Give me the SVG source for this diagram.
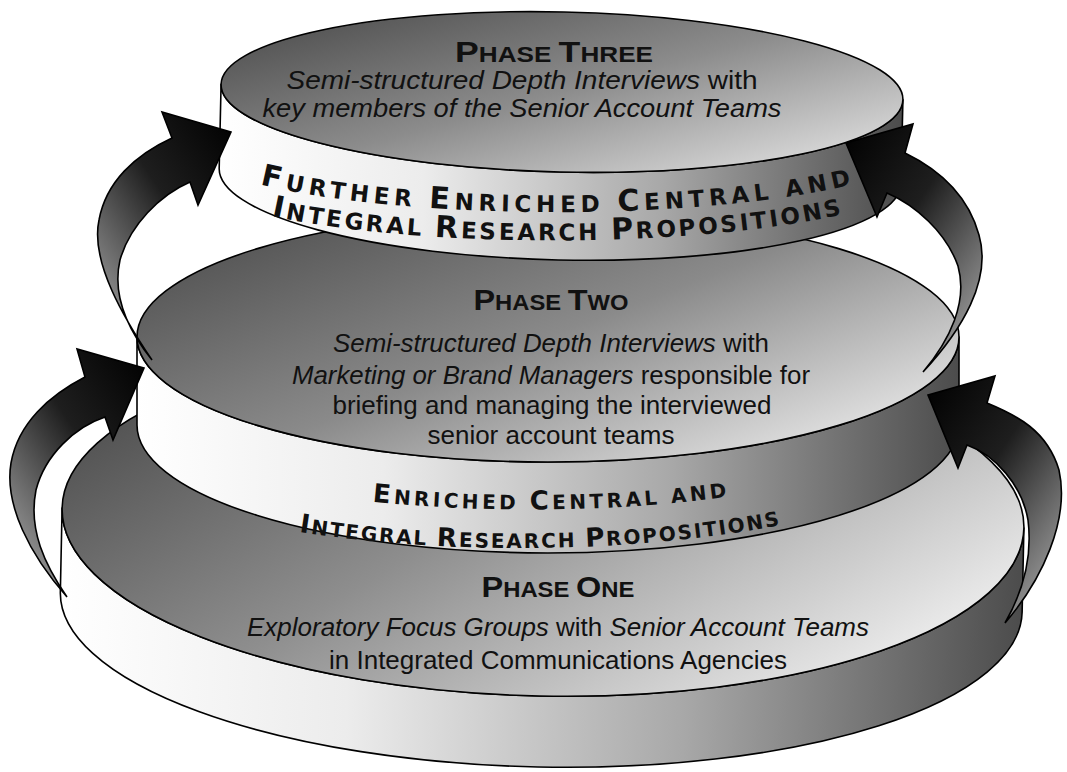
<svg xmlns="http://www.w3.org/2000/svg" width="1067" height="772" viewBox="0 0 1067 772">
<style>
.edge{stroke:#000;stroke-width:1.6;stroke-linejoin:round}
.arrow{stroke:#000;stroke-width:1.6;stroke-linejoin:miter}
.title{font-family:"Liberation Sans Narrow","Liberation Sans",Arial,sans-serif;font-weight:bold;fill:#111;text-anchor:middle}
.body{font-family:"Liberation Sans Narrow","Liberation Sans",Arial,sans-serif;font-size:26px;fill:#111;text-anchor:middle}
.it{font-style:italic}
.band{font-family:"DejaVu Sans","Liberation Sans",sans-serif;font-weight:bold;fill:#111;text-anchor:middle}
</style>
<defs>
<linearGradient id="gTop1" x1="0" y1="0.2" x2="1" y2="0.8"><stop offset="0" stop-color="#4a4a4a"/><stop offset="0.45" stop-color="#8e8e8e"/><stop offset="1" stop-color="#f6f6f6"/></linearGradient>
<linearGradient id="gTop2" x1="0" y1="0.1" x2="1" y2="0.9"><stop offset="0" stop-color="#4c4c4c"/><stop offset="0.5" stop-color="#8a8a8a"/><stop offset="1" stop-color="#f2f2f2"/></linearGradient>
<linearGradient id="gTop3" x1="0" y1="0.1" x2="1" y2="0.9"><stop offset="0" stop-color="#4a4a4a"/><stop offset="0.5" stop-color="#8c8c8c"/><stop offset="1" stop-color="#e6e6e6"/></linearGradient>
<linearGradient id="gBand" x1="0" y1="0" x2="1" y2="0"><stop offset="0" stop-color="#ffffff"/><stop offset="0.3" stop-color="#ececec"/><stop offset="0.65" stop-color="#a8a8a8"/><stop offset="1" stop-color="#4c4c4c"/></linearGradient>
<linearGradient id="gArrL" x1="1" y1="0" x2="0.2" y2="1"><stop offset="0" stop-color="#000"/><stop offset="0.45" stop-color="#1e1e1e"/><stop offset="1" stop-color="#a0a0a0"/></linearGradient>
<linearGradient id="gArrR" x1="0" y1="0" x2="0.8" y2="1"><stop offset="0" stop-color="#000"/><stop offset="0.45" stop-color="#1e1e1e"/><stop offset="1" stop-color="#a0a0a0"/></linearGradient>
</defs>
<rect width="1067" height="772" fill="#fff"/>

<g id="phase1">
<g transform="rotate(1.2 543 518)">
<path class="edge" fill="url(#gBand)" d="M 62 518 L 62 602 A 481 165 0 0 0 1024 602 L 1024 518 A 481 178 0 0 1 62 518 Z"/>
<ellipse class="edge" fill="url(#gTop1)" cx="543" cy="518" rx="481" ry="178"/>
</g>
<text class="title" x="558" y="597" textLength="153" lengthAdjust="spacingAndGlyphs"><tspan font-size="30">P</tspan><tspan font-size="22">HASE </tspan><tspan font-size="30">O</tspan><tspan font-size="22">NE</tspan></text>
<text class="body" x="558" y="636" textLength="622" lengthAdjust="spacingAndGlyphs"><tspan class="it">Exploratory Focus Groups</tspan> with <tspan class="it">Senior Account Teams</tspan></text>
<text class="body" x="558" y="669" textLength="458" lengthAdjust="spacingAndGlyphs">in Integrated Communications Agencies</text>
</g>

<g id="phase2">
<path class="edge" fill="url(#gBand)" d="M 137 337 L 137 425 A 411 128 0 0 0 959 425 L 959 337 A 411 125 0 0 1 137 337 Z"/>
<ellipse class="edge" fill="url(#gTop2)" cx="548" cy="337" rx="411" ry="125"/>
<path id="p2a" fill="none" d="M 340 498 A 460 130 0 0 0 760 492"/>
<path id="p2b" fill="none" d="M 280 529 A 460 130 0 0 0 800 521"/>
<text class="title" x="551" y="310" textLength="155" lengthAdjust="spacingAndGlyphs"><tspan font-size="30">P</tspan><tspan font-size="22">HASE </tspan><tspan font-size="30">T</tspan><tspan font-size="22">WO</tspan></text>
<text class="body" x="551" y="352" textLength="436" lengthAdjust="spacingAndGlyphs"><tspan class="it">Semi-structured Depth Interviews</tspan> with</text>
<text class="body" x="551" y="384" textLength="518" lengthAdjust="spacingAndGlyphs"><tspan class="it">Marketing or Brand Managers</tspan> responsible for</text>
<text class="body" x="552" y="414" textLength="439" lengthAdjust="spacingAndGlyphs">briefing and managing the interviewed</text>
<text class="body" x="551" y="444" textLength="247" lengthAdjust="spacingAndGlyphs">senior account teams</text>
<text class="band" letter-spacing="1"><textPath href="#p2a" startOffset="50%" textLength="356" lengthAdjust="spacing"><tspan font-size="26">E</tspan><tspan font-size="20">NRICHED </tspan><tspan font-size="26">C</tspan><tspan font-size="20">ENTRAL AND</tspan></textPath></text>
<text class="band" letter-spacing="1"><textPath href="#p2b" startOffset="50%" textLength="484" lengthAdjust="spacing"><tspan font-size="26">I</tspan><tspan font-size="20">NTEGRAL </tspan><tspan font-size="26">R</tspan><tspan font-size="20">ESEARCH </tspan><tspan font-size="26">P</tspan><tspan font-size="20">ROPOSITIONS</tspan></textPath></text>
</g>

<g id="phase3">
<g transform="rotate(1.3 562 92)">
<path class="edge" fill="url(#gBand)" d="M 221 92 L 221 176 A 341 84 0 0 0 903 176 L 903 92 A 341 80 0 0 1 221 92 Z"/>
<ellipse class="edge" fill="url(#gTop3)" cx="562" cy="92" rx="341" ry="80"/>
</g>
<path id="p3a" fill="none" d="M 250 182 A 380 74 0 0 0 862 182"/>
<path id="p3b" fill="none" d="M 262 214 A 380 74 0 0 0 852 212"/>
<text class="title" x="554" y="62" textLength="198" lengthAdjust="spacingAndGlyphs"><tspan font-size="30">P</tspan><tspan font-size="22">HASE </tspan><tspan font-size="30">T</tspan><tspan font-size="22">HREE</tspan></text>
<text class="body" x="522" y="89" textLength="471" lengthAdjust="spacingAndGlyphs"><tspan class="it">Semi-structured Depth Interviews</tspan> with</text>
<text class="body" x="522" y="117" textLength="519" lengthAdjust="spacingAndGlyphs" font-style="italic">key members of the Senior Account Teams</text>
<text class="band" letter-spacing="1"><textPath href="#p3a" startOffset="50%" textLength="596" lengthAdjust="spacing"><tspan font-size="30">F</tspan><tspan font-size="23">URTHER </tspan><tspan font-size="30">E</tspan><tspan font-size="23">NRICHED </tspan><tspan font-size="30">C</tspan><tspan font-size="23">ENTRAL AND</tspan></textPath></text>
<text class="band" letter-spacing="1"><textPath href="#p3b" startOffset="50%" textLength="574" lengthAdjust="spacing"><tspan font-size="30">I</tspan><tspan font-size="23">NTEGRAL </tspan><tspan font-size="30">R</tspan><tspan font-size="23">ESEARCH </tspan><tspan font-size="30">P</tspan><tspan font-size="23">ROPOSITIONS</tspan></textPath></text>
</g>

<g id="connectors">
<path class="arrow" fill="url(#gArrL)" d="M 152 360 C 125 320, 90 262, 99 220 C 106 182, 135 155, 172 138 L 162 112 L 231 132 L 198 205 L 190 182 C 160 195, 130 225, 120 260 C 112 295, 128 330, 152 360 Z"/>
<path class="arrow" fill="url(#gArrL)" d="M 67 597 C 30 555, 4 505, 11 463 C 18 423, 50 395, 85 377 L 77 349 L 144 368 L 113 440 L 105 417 C 75 427, 45 455, 36 490 C 28 530, 45 565, 67 597 Z"/>
<path class="arrow" fill="url(#gArrR)" d="M 923 372 C 962 330, 992 280, 979 235 C 968 195, 940 170, 905 153 L 913 124 L 846 143 L 877 217 L 887 193 C 915 205, 946 232, 958 266 C 968 302, 950 340, 923 372 Z"/>
<path class="arrow" fill="url(#gArrR)" d="M 1005 623 C 1042 580, 1070 520, 1059 470 C 1047 430, 1016 415, 987 403 L 995 376 L 928 395 L 958 468 L 967 445 C 995 455, 1022 485, 1028 520 C 1033 560, 1021 595, 1005 623 Z"/>
</g>
</svg>
